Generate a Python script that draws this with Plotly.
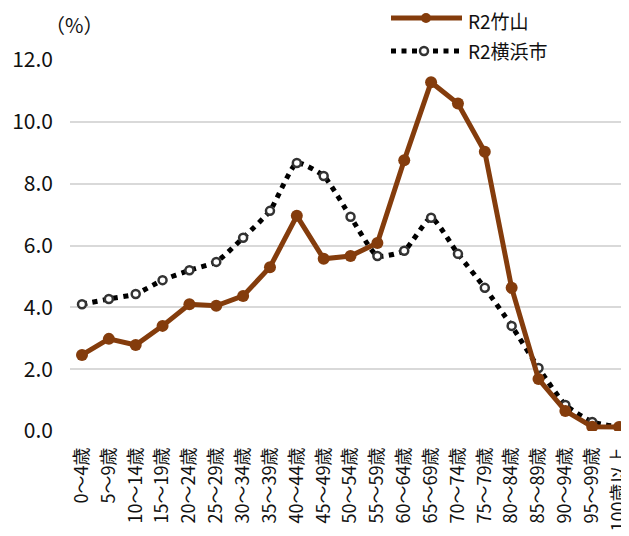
import plotly.graph_objects as go

categories = ["0～4歳", "5～9歳", "10～14歳", "15～19歳", "20～24歳", "25～29歳",
              "30～34歳", "35～39歳", "40～44歳", "45～49歳", "50～54歳", "55～59歳",
              "60～64歳", "65～69歳", "70～74歳", "75～79歳", "80～84歳", "85～89歳",
              "90～94歳", "95～99歳", "100歳以上"]
takeyama = [2.46, 2.98, 2.78, 3.4, 4.1, 4.05, 4.37, 5.3, 6.96, 5.57, 5.66, 6.08,
            8.76, 11.28, 10.59, 9.03, 4.63, 1.68, 0.65, 0.14, 0.13]
yokohama = [4.1, 4.27, 4.43, 4.88, 5.2, 5.47, 6.25, 7.12, 8.67, 8.25, 6.93, 5.66,
            5.83, 6.9, 5.73, 4.63, 3.4, 2.04, 0.84, 0.29, 0.13]
series_names = ["R2竹山", "R2横浜市"]
y_ticks = [0, 2, 4, 6, 8, 10, 12]

BROWN = "#843C0C"
FONT = "Noto Sans CJK JP"
TXT = "#111111"

OFF = 8  # default page body margin
W, H = 629 - OFF, 536 - OFF
L, R, T, B = 70 - OFF, 0, 60 - OFF, 105
PW, PH = W - L - R, H - T - B

def px(x):
    return (x - OFF - L) / PW

def py(y):
    return (H - B - (y - OFF)) / PH

xi = list(range(len(categories)))

fig = go.Figure()
fig.add_trace(go.Scatter(
    x=xi, y=yokohama, name=series_names[1], mode="lines+markers",
    line=dict(color="#000000", width=5, dash="5px,5.5px", shape="spline", smoothing=0.5),
    marker=dict(symbol="circle", size=8, color="#ffffff", line=dict(color="#333333", width=2.5)),
    showlegend=False,
))
fig.add_trace(go.Scatter(
    x=xi, y=takeyama, name=series_names[0], mode="lines+markers",
    line=dict(color=BROWN, width=5),
    marker=dict(symbol="circle", size=12, color=BROWN),
    showlegend=False,
))

shapes = []
shapes.append(dict(type="rect", xref="paper", yref="paper", x0=px(358), x1=1.0,
                   y0=py(66), y1=py(OFF), fillcolor="#ffffff", line=dict(width=0), layer="between"))
shapes.append(dict(type="line", xref="paper", yref="paper", x0=px(391), x1=px(462),
                   y0=py(18), y1=py(18), line=dict(color=BROWN, width=5)))
shapes.append(dict(type="circle", xref="paper", yref="paper", xsizemode="pixel", ysizemode="pixel",
                   xanchor=px(426), yanchor=py(18), x0=-5, x1=5, y0=-5, y1=5,
                   fillcolor=BROWN, line=dict(width=0)))
shapes.append(dict(type="line", xref="paper", yref="paper", x0=px(391), x1=px(462),
                   y0=py(51), y1=py(51), line=dict(color="#000000", width=5, dash="5px,5.5px")))
shapes.append(dict(type="circle", xref="paper", yref="paper", xsizemode="pixel", ysizemode="pixel",
                   xanchor=px(424), yanchor=py(51), x0=-4, x1=4, y0=-4, y1=4,
                   fillcolor="#ffffff", line=dict(color="#333333", width=2.5)))

annotations = [
    dict(text=series_names[0], xref="paper", yref="paper", x=px(466), y=py(20.5),
         xanchor="left", yanchor="middle", showarrow=False, font=dict(family=FONT, size=19, color=TXT)),
    dict(text=series_names[1], xref="paper", yref="paper", x=px(466), y=py(51),
         xanchor="left", yanchor="middle", showarrow=False, font=dict(family=FONT, size=19, color=TXT)),
    dict(text="（%）", xref="paper", yref="paper", x=px(74), y=py(24),
         xanchor="center", yanchor="middle", showarrow=False, font=dict(family=FONT, size=20, color=TXT)),
]

fig.update_layout(
    width=W, height=H,
    margin=dict(l=L, r=R, t=T, b=B, pad=0),
    paper_bgcolor="#ffffff", plot_bgcolor="#ffffff",
    font=dict(family=FONT, color=TXT),
    shapes=shapes, annotations=annotations,
    showlegend=False,
)
fig.update_xaxes(
    range=[-0.447, 20.37], tickmode="array", tickvals=xi, ticktext=categories,
    tickangle=-90, showgrid=False, zeroline=False, showline=False, ticks="",
    tickfont=dict(family=FONT, size=18, color=TXT), ticklabelstandoff=12,
    ticklabeloverflow="allow", automargin=False,
)
fig.update_yaxes(
    range=[0, 12], tickmode="array", tickvals=y_ticks,
    ticktext=[f"{v:.1f}" for v in y_ticks],
    showgrid=True, gridcolor="#d9d9d9", gridwidth=2, zeroline=False, showline=False,
    ticks="", tickfont=dict(family=FONT, size=21, color=TXT), ticklabelstandoff=16,
    automargin=False,
)

fig.write_html("out.html")
